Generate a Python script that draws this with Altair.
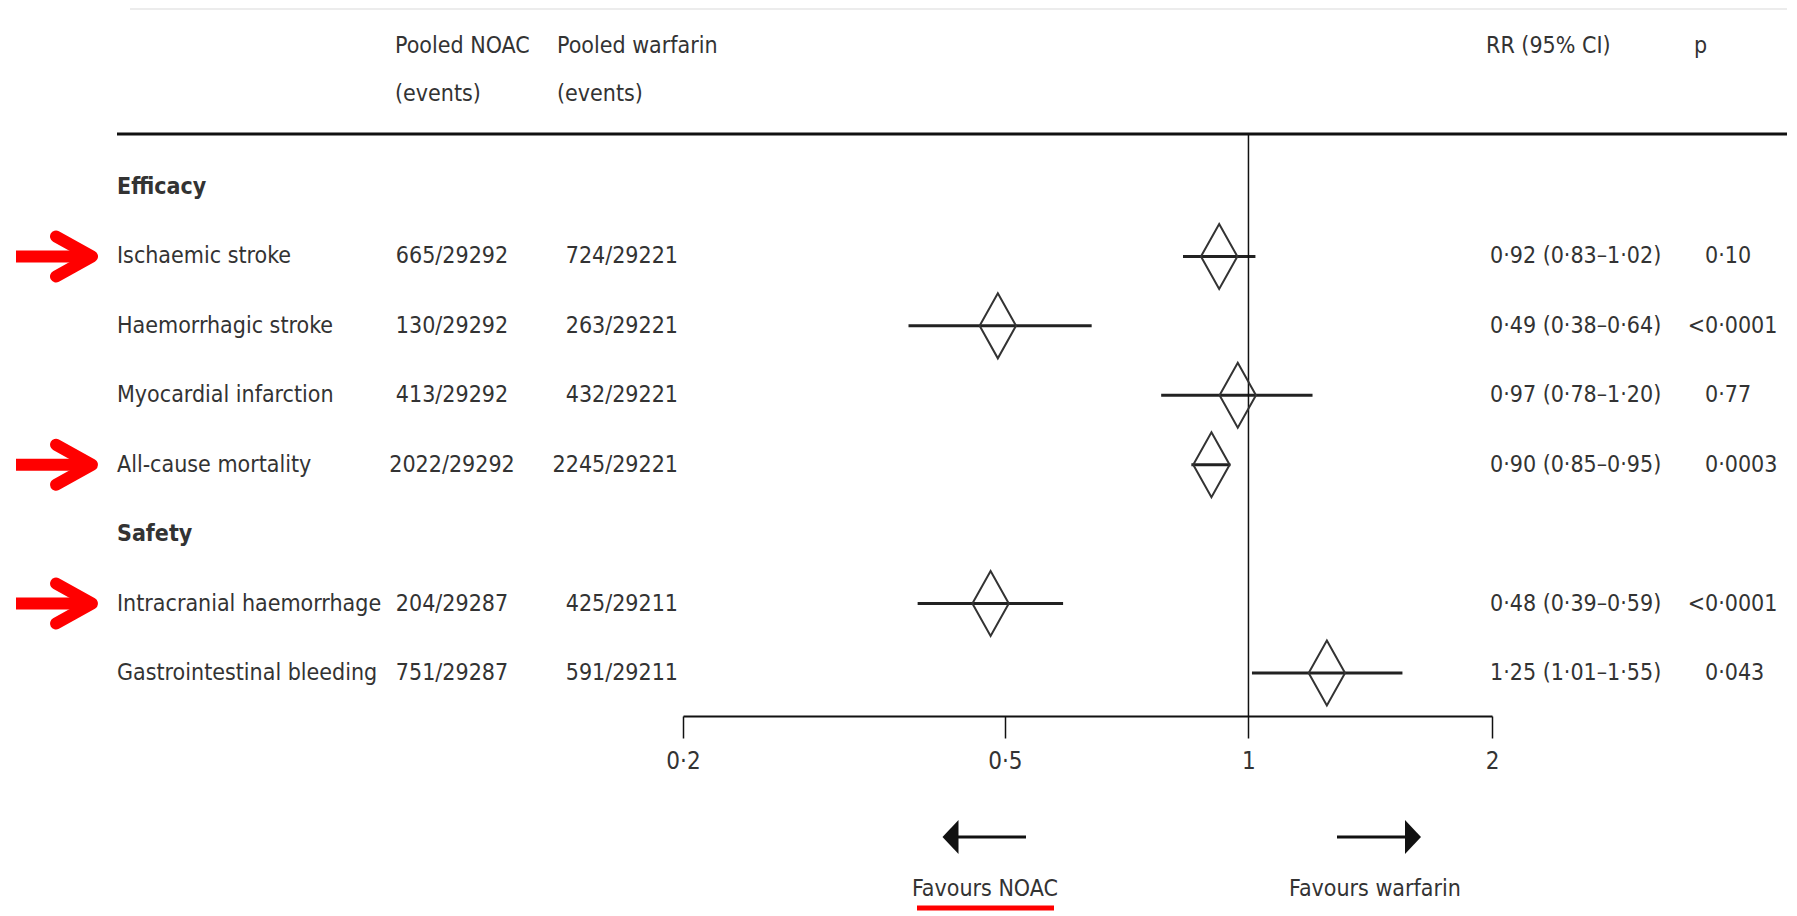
import altair as alt
import pandas as pd

# ---------------- data ----------------
sections = ["Efficacy", "Safety"]
row_order = ["Efficacy", "Ischaemic stroke", "Haemorrhagic stroke", "Myocardial infarction",
             "All-cause mortality", "Safety", "Intracranial haemorrhage", "Gastrointestinal bleeding"]
outcomes = ["Ischaemic stroke", "Haemorrhagic stroke", "Myocardial infarction",
            "All-cause mortality", "Intracranial haemorrhage", "Gastrointestinal bleeding"]
noac_events = ["665/29292", "130/29292", "413/29292", "2022/29292", "204/29287", "751/29287"]
warfarin_events = ["724/29221", "263/29221", "432/29221", "2245/29221", "425/29211", "591/29211"]
rr = [0.92, 0.49, 0.97, 0.90, 0.48, 1.25]
ci_low = [0.83, 0.38, 0.78, 0.85, 0.39, 1.01]
ci_high = [1.02, 0.64, 1.20, 0.95, 0.59, 1.55]
p_values = ["0·10", "<0·0001", "0·77", "0·0003", "<0·0001", "0·043"]
highlighted = ["Ischaemic stroke", "All-cause mortality", "Intracranial haemorrhage"]
axis_ticks = [0.2, 0.5, 1, 2]

def dot(v):
    return f"{v:.2f}".replace(".", "·")

df = pd.DataFrame({
    "label": outcomes,
    "noac": noac_events,
    "warf": warfarin_events,
    "rr": rr,
    "lo": ci_low,
    "hi": ci_high,
    "rr_text": [f"{dot(r)} ({dot(l)}–{dot(h)})" for r, l, h in zip(rr, ci_low, ci_high)],
    "p_prefix": ["<" if p.startswith("<") else "" for p in p_values],
    "p_num": [p.lstrip("<") for p in p_values],
})
sec_df = pd.DataFrame({"label": sections})
hl_df = pd.DataFrame({"label": highlighted})
ref_df = pd.DataFrame({"ref": [1.0]})
one = pd.DataFrame({"k": [0]})

# ---------------- layout / style ----------------
W, H, PAD_B = 1779, 708, 195
FONT = "Liberation Sans Narrow, DejaVu Sans Condensed, Arial Narrow, sans-serif"
FS = 23
TEXT = "#333333"
RED = "#ff0000"

xscale = alt.Scale(type="log", domain=[0.2, 2], range=[675, 1484], nice=False)
xaxis = alt.Axis(
    values=axis_ticks, title=None, grid=False, orient="bottom",
    labelExpr="replace(format(datum.value, '~g'), '.', '·')",
    tickSize=22, tickWidth=1.5, tickColor="#111111",
    domainColor="#111111", domainWidth=2,
    labelFont=FONT, labelFontSize=24, labelColor=TEXT, labelPadding=11,
    labelFlush=False, labelOverlap=False)
yscale = alt.Scale(type="point", domain=row_order, range=[179, 665], padding=0)
yenc = alt.Y("label:N", scale=yscale, axis=None)


def fixed_text(text, x, y, align="left", **kw):
    return alt.Chart(one).mark_text(
        text=text, align=align, baseline="middle", font=FONT, fontSize=FS, color=TEXT, **kw
    ).encode(x=alt.value(x), y=alt.value(y))


band = alt.Chart(one).mark_rect(color="#ececec").encode(
    x=alt.value(122), x2=alt.value(W), y=alt.value(0), y2=alt.value(2))

headers = [
    fixed_text("Pooled NOAC", 387, 38),
    fixed_text("(events)", 387, 86),
    fixed_text("Pooled warfarin", 549, 38),
    fixed_text("(events)", 549, 86),
    fixed_text("RR (95% CI)", 1478, 38),
    fixed_text("p", 1686, 38),
]

top_rule = alt.Chart(one).mark_rule(color="#111111", strokeWidth=3).encode(
    x=alt.value(109), x2=alt.value(W), y=alt.value(126))

ci = alt.Chart(df).mark_rule(color="#222222", strokeWidth=3).encode(
    x=alt.X("lo:Q", scale=xscale, axis=xaxis),
    x2="hi:Q",
    y=yenc,
)

vline = alt.Chart(ref_df).mark_rule(color="#111111", strokeWidth=1.5).encode(
    x=alt.X("ref:Q", scale=xscale, axis=xaxis), y=alt.value(126), y2=alt.value(H))

diamonds = alt.Chart(df).mark_point(
    shape="M 0 -1 L 0.56 0 L 0 1 L -0.56 0 Z", size=4225, filled=False,
    stroke="#333333", strokeWidth=2, opacity=1,
).encode(x=alt.X("rr:Q", scale=xscale, axis=xaxis), y=yenc)

sec_text = alt.Chart(sec_df).mark_text(
    align="left", baseline="middle", font=FONT, fontSize=FS, fontWeight="bold", color=TEXT
).encode(x=alt.value(109), y=yenc, text="label:N")

base_txt = dict(baseline="middle", font=FONT, fontSize=FS, color=TEXT)
out_text = alt.Chart(df).mark_text(align="left", **base_txt).encode(
    x=alt.value(109), y=yenc, text="label:N")
noac_text = alt.Chart(df).mark_text(align="center", **base_txt).encode(
    x=alt.value(444), y=yenc, text="noac:N")
warf_text = alt.Chart(df).mark_text(align="right", **base_txt).encode(
    x=alt.value(670), y=yenc, text="warf:N")
rr_text = alt.Chart(df).mark_text(align="left", **base_txt).encode(
    x=alt.value(1482), y=yenc, text="rr_text:N")
p_text = alt.Chart(df).mark_text(align="left", **base_txt).encode(
    x=alt.value(1697), y=yenc, text="p_num:N")
p_pre = alt.Chart(df).mark_text(align="right", **base_txt).encode(
    x=alt.value(1697), y=yenc, text="p_prefix:N")

# red highlight arrows
red_shaft = alt.Chart(hl_df).mark_rule(color=RED, strokeWidth=12).encode(
    x=alt.value(8), x2=alt.value(84), y=yenc)
red_head = alt.Chart(hl_df).mark_point(
    shape="M -0.9 -1 L 0.9 0 L -0.9 1", size=1600, filled=False, stroke=RED,
    strokeWidth=12, strokeCap="round", strokeJoin="round", opacity=1,
).encode(x=alt.value(66), y=yenc)

# favours arrows
AY = 829
left_shaft = alt.Chart(one).mark_rule(color="#111111", strokeWidth=3).encode(
    x=alt.value(942), x2=alt.value(1018), y=alt.value(AY))
left_head = alt.Chart(one).mark_point(
    shape="M -0.47 0 L 0.47 -1 L 0.47 1 Z", size=1156, filled=True, fill="#111111",
    strokeWidth=0, opacity=1).encode(x=alt.value(942.5), y=alt.value(AY))
right_shaft = alt.Chart(one).mark_rule(color="#111111", strokeWidth=3).encode(
    x=alt.value(1329), x2=alt.value(1405), y=alt.value(AY))
right_head = alt.Chart(one).mark_point(
    shape="M 0.47 0 L -0.47 -1 L -0.47 1 Z", size=1156, filled=True, fill="#111111",
    strokeWidth=0, opacity=1).encode(x=alt.value(1405), y=alt.value(AY))

fav_noac = fixed_text("Favours NOAC", 977, 881, align="center")
fav_warf = fixed_text("Favours warfarin", 1367, 881, align="center")
underline = alt.Chart(one).mark_rule(color=RED, strokeWidth=5).encode(
    x=alt.value(909), x2=alt.value(1046), y=alt.value(900))

chart = alt.layer(
    ci, vline, diamonds, band, *headers, top_rule,
    sec_text, out_text, noac_text, warf_text, rr_text, p_text, p_pre,
    red_shaft, red_head, left_shaft, left_head, right_shaft, right_head,
    fav_noac, fav_warf, underline,
).properties(
    width=W, height=H,
    padding={"left": 0, "top": 0, "right": 0, "bottom": PAD_B},
    autosize=alt.AutoSizeParams(type="none"),
).configure_view(stroke=None)

chart.save("out.html", embed_options={"renderer": "svg", "actions": False})
